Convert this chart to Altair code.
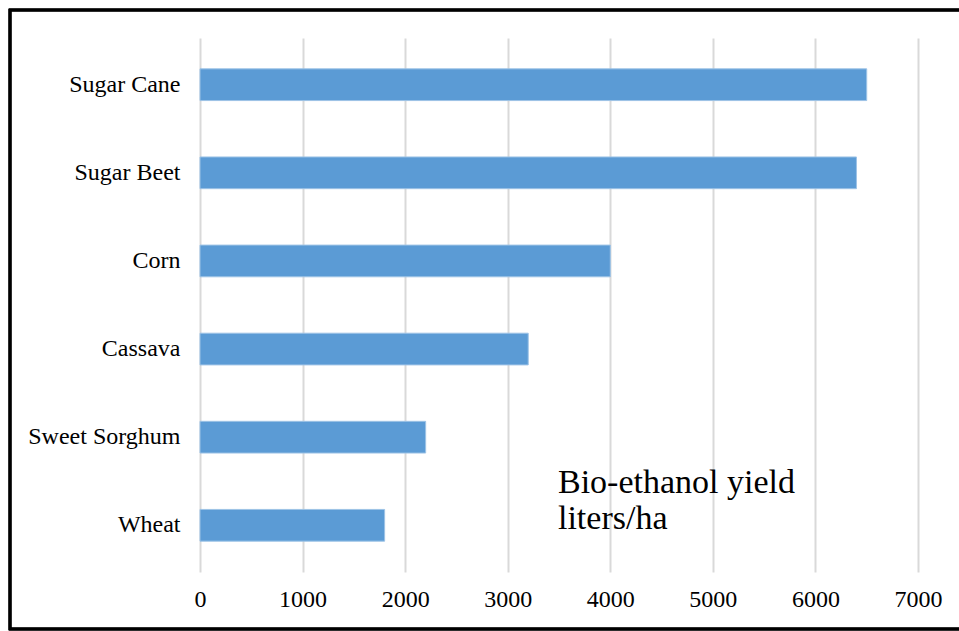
import altair as alt
import pandas as pd

crops = ["Sugar Cane", "Sugar Beet", "Corn", "Cassava", "Sweet Sorghum", "Wheat"]
yields = [6500, 6400, 4000, 3200, 2200, 1800]
x_ticks = [0, 1000, 2000, 3000, 4000, 5000, 6000, 7000]
note_lines = ["Bio-ethanol yield", "liters/ha"]

df = pd.DataFrame({"crop": crops, "yield": yields})
notes = pd.DataFrame({"line": note_lines, "idx": [0, 1]})

W, H = 718, 534

bars = alt.Chart(df).mark_bar(color="#5B9BD5", stroke="#9DC3E6", strokeWidth=1).encode(
    x=alt.X("yield:Q", scale=alt.Scale(domain=[0, 7000], nice=False),
            axis=alt.Axis(values=x_ticks, title=None, domain=False, ticks=False,
                          grid=True, gridColor="#D9D9D9", gridWidth=2,
                          labelFont="Liberation Serif", labelFontSize=24,
                          labelFlush=False,
                          labelColor="#000000", labelPadding=15, format="d")),
    y=alt.Y("crop:N", sort=crops,
            scale=alt.Scale(paddingInner=0.64, paddingOuter=0.35),
            axis=alt.Axis(title=None, domain=False, ticks=False, grid=False,
                          labelFont="Liberation Serif", labelFontSize=24,
                          labelColor="#000000", labelPadding=20, labelLimit=300)),
)

note = alt.Chart(notes).mark_text(
    font="Liberation Serif", fontSize=34, align="left", baseline="alphabetic", color="#000000"
).encode(
    x=alt.datum(3490),
    y=alt.Y("idx:O", axis=None, scale=alt.Scale(range=[455, 491], type="point", padding=0)),
    text="line:N",
)

frame = alt.Chart(df).mark_rect(fill=None, stroke="#000000", strokeWidth=2.5).encode(
    x=alt.value(-190), x2=alt.value(780), y=alt.value(-28), y2=alt.value(591)
)

chart = alt.layer(bars, note, frame).resolve_scale(y="independent").properties(
    width=W, height=H,
    autosize=alt.AutoSizeParams(type="none"),
    padding={"left": 200, "top": 38, "right": 41, "bottom": 59},
    background="#FFFFFF",
).configure_view(stroke=None)

chart.save("out.html", embed_options={"renderer": "svg", "actions": False})
